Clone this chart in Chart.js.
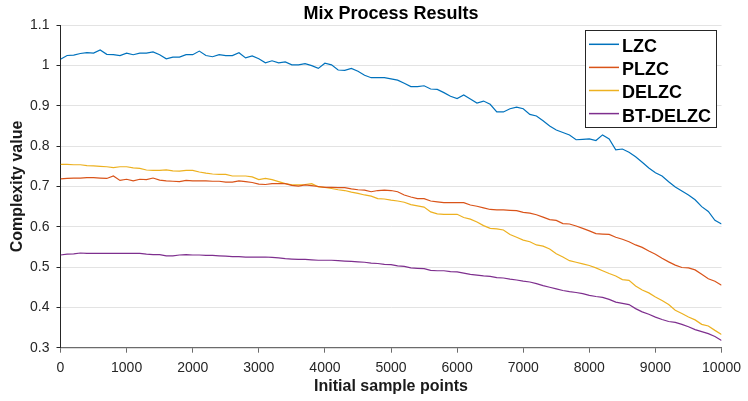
<!DOCTYPE html>
<html>
<head>
<meta charset="utf-8">
<title>Mix Process Results</title>
<script src="https://cdn.jsdelivr.net/npm/chart.js@4.4.1/dist/chart.umd.min.js"></script>
<style>
  html, body { margin: 0; padding: 0; background: #ffffff; }
  #wrap { width: 748px; height: 401px; }
</style>
</head>
<body>
<div id="wrap"><canvas id="chart" width="748" height="401"></canvas></div>
<script>
// Initial sample points (x positions of every measurement)
const samplePoints = [
  0, 100, 200, 300, 400, 500, 600, 700, 800, 900,
  1000, 1100, 1200, 1300, 1400, 1500, 1600, 1700, 1800, 1900,
  2000, 2100, 2200, 2300, 2400, 2500, 2600, 2700, 2800, 2900,
  3000, 3100, 3200, 3300, 3400, 3500, 3600, 3700, 3800, 3900,
  4000, 4100, 4200, 4300, 4400, 4500, 4600, 4700, 4800, 4900,
  5000, 5100, 5200, 5300, 5400, 5500, 5600, 5700, 5800, 5900,
  6000, 6100, 6200, 6300, 6400, 6500, 6600, 6700, 6800, 6900,
  7000, 7100, 7200, 7300, 7400, 7500, 7600, 7700, 7800, 7900,
  8000, 8100, 8200, 8300, 8400, 8500, 8600, 8700, 8800, 8900,
  9000, 9100, 9200, 9300, 9400, 9500, 9600, 9700, 9800, 9900,
  10000
];

const seriesNames = ['LZC', 'PLZC', 'DELZC', 'BT-DELZC'];

const lzc = [
  1.016, 1.025, 1.026, 1.030, 1.032, 1.031, 1.039, 1.028, 1.027, 1.025,
  1.031, 1.027, 1.031, 1.031, 1.034, 1.027, 1.017, 1.021, 1.021, 1.027,
  1.027, 1.036, 1.025, 1.022, 1.027, 1.025, 1.025, 1.032, 1.019, 1.024,
  1.017, 1.007, 1.012, 1.007, 1.009, 1.002, 1.002, 1.005, 1.000, 0.993,
  1.006, 1.002, 0.989, 0.988, 0.993, 0.986, 0.976, 0.970, 0.970, 0.970,
  0.967, 0.964, 0.956, 0.948, 0.948, 0.950, 0.942, 0.941, 0.933, 0.924,
  0.918, 0.927, 0.917, 0.907, 0.912, 0.904, 0.885, 0.885, 0.893, 0.897,
  0.893, 0.879, 0.875, 0.863, 0.850, 0.840, 0.834, 0.828, 0.816, 0.817,
  0.818, 0.814, 0.828, 0.818, 0.791, 0.793, 0.785, 0.774, 0.760, 0.746,
  0.734, 0.726, 0.712, 0.699, 0.689, 0.679, 0.667, 0.650, 0.638, 0.616,
  0.607
];

const plzc = [
  0.719, 0.720, 0.721, 0.721, 0.722, 0.722, 0.721, 0.720, 0.726, 0.715,
  0.718, 0.714, 0.718, 0.717, 0.721, 0.716, 0.714, 0.713, 0.712, 0.715,
  0.714, 0.714, 0.714, 0.713, 0.713, 0.711, 0.711, 0.714, 0.712, 0.710,
  0.706, 0.705, 0.707, 0.707, 0.707, 0.703, 0.701, 0.704, 0.702, 0.700,
  0.698, 0.698, 0.697, 0.697, 0.694, 0.692, 0.691, 0.687, 0.690, 0.691,
  0.690, 0.687, 0.679, 0.674, 0.670, 0.670, 0.664, 0.662, 0.660, 0.660,
  0.660, 0.660, 0.654, 0.651, 0.647, 0.643, 0.642, 0.642, 0.641, 0.640,
  0.636, 0.634, 0.630, 0.624, 0.618, 0.616, 0.608, 0.607, 0.602, 0.596,
  0.590, 0.583, 0.582, 0.581, 0.574, 0.569, 0.563, 0.555, 0.549, 0.540,
  0.532, 0.522, 0.513, 0.505, 0.499, 0.498, 0.493, 0.482, 0.471, 0.465,
  0.455
];

const delzc = [
  0.755, 0.755, 0.754, 0.754, 0.752, 0.751, 0.750, 0.749, 0.747, 0.749,
  0.749, 0.746, 0.745, 0.741, 0.740, 0.740, 0.741, 0.739, 0.738, 0.740,
  0.740, 0.736, 0.733, 0.731, 0.730, 0.730, 0.726, 0.726, 0.726, 0.724,
  0.717, 0.720, 0.717, 0.712, 0.707, 0.704, 0.704, 0.705, 0.707, 0.699,
  0.698, 0.695, 0.692, 0.690, 0.686, 0.683, 0.679, 0.676, 0.670, 0.669,
  0.666, 0.664, 0.661, 0.655, 0.652, 0.649, 0.637, 0.632, 0.631, 0.631,
  0.631, 0.623, 0.619, 0.612, 0.603, 0.596, 0.595, 0.592, 0.581, 0.574,
  0.567, 0.563, 0.555, 0.552, 0.545, 0.533, 0.525, 0.516, 0.512, 0.508,
  0.504, 0.498, 0.491, 0.484, 0.478, 0.469, 0.467, 0.453, 0.443, 0.436,
  0.426, 0.417, 0.407, 0.393, 0.385, 0.376, 0.369, 0.358, 0.354, 0.343,
  0.333
];

const btDelzc = [
  0.530, 0.532, 0.533, 0.535, 0.534, 0.534, 0.534, 0.534, 0.534, 0.534,
  0.534, 0.534, 0.534, 0.532, 0.531, 0.531, 0.528, 0.528, 0.530, 0.531,
  0.530, 0.530, 0.529, 0.529, 0.528, 0.527, 0.526, 0.526, 0.525, 0.525,
  0.525, 0.525, 0.524, 0.523, 0.521, 0.520, 0.519, 0.519, 0.518, 0.517,
  0.517, 0.517, 0.516, 0.515, 0.514, 0.513, 0.512, 0.510, 0.509, 0.507,
  0.506, 0.503, 0.502, 0.498, 0.497, 0.496, 0.492, 0.491, 0.491, 0.489,
  0.488, 0.485, 0.482, 0.480, 0.478, 0.477, 0.474, 0.473, 0.470, 0.468,
  0.465, 0.463, 0.459, 0.454, 0.450, 0.446, 0.442, 0.439, 0.437, 0.434,
  0.430, 0.427, 0.425, 0.420, 0.413, 0.410, 0.407, 0.397, 0.389, 0.383,
  0.376, 0.370, 0.365, 0.363, 0.358, 0.352, 0.345, 0.340, 0.335, 0.328,
  0.318
];

const xTickValues = [0, 1000, 2000, 3000, 4000, 5000, 6000, 7000, 8000, 9000, 10000];
const yTickValues = [0.3, 0.4, 0.5, 0.6, 0.7, 0.8, 0.9, 1.0, 1.1];

const chartTitle = 'Mix Process Results';
const xAxisTitle = 'Initial sample points';
const yAxisTitle = 'Complexity value';

const seriesColors = ['#0072BD', '#D95319', '#EDB120', '#7E2F8E'];
const FONT = '"Liberation Sans", Arial, Helvetica, sans-serif';

const seriesValues = [lzc, plzc, delzc, btDelzc];
const datasets = seriesValues.map((vals, i) => ({
  label: seriesNames[i],
  data: vals.map((v, k) => ({ x: samplePoints[k], y: v })),
  borderColor: seriesColors[i],
  backgroundColor: seriesColors[i],
  borderWidth: 1.2,
  pointRadius: 0,
  pointHoverRadius: 0,
  tension: 0,
  fill: false
}));

// Title, axis titles and the boxed legend, drawn on top of the plot
const annotations = {
  id: 'annotations',
  afterDraw(chart) {
    const { ctx, chartArea } = chart;
    const cx = (chartArea.left + chartArea.right) / 2;
    const cy = (chartArea.top + chartArea.bottom) / 2;
    ctx.save();
    ctx.fillStyle = '#000000';
    ctx.textBaseline = 'alphabetic';
    ctx.textAlign = 'center';

    ctx.font = 'bold 18px ' + FONT;
    ctx.fillText(chartTitle, cx, 19);

    ctx.font = 'bold 16px ' + FONT;
    ctx.fillStyle = '#1a1a1a';
    ctx.fillText(xAxisTitle, cx, 391);

    ctx.save();
    ctx.translate(22, cy);
    ctx.rotate(-Math.PI / 2);
    ctx.fillText(yAxisTitle, 0, 0);
    ctx.restore();

    // legend box
    const box = { x: 585.5, y: 30.5, w: 131, h: 97 };
    ctx.fillStyle = '#ffffff';
    ctx.fillRect(box.x, box.y, box.w, box.h);
    ctx.strokeStyle = '#262626';
    ctx.lineWidth = 1;
    ctx.strokeRect(box.x, box.y, box.w, box.h);

    ctx.font = 'bold 18px ' + FONT;
    ctx.textAlign = 'left';
    chart.data.datasets.forEach((ds, i) => {
      const mid = 45.8 + i * 23.1;
      ctx.strokeStyle = ds.borderColor;
      ctx.lineWidth = 1.5;
      ctx.beginPath();
      ctx.moveTo(589, mid - 1.5);
      ctx.lineTo(619, mid - 1.5);
      ctx.stroke();
      ctx.fillStyle = '#000000';
      ctx.fillText(ds.label, 622, mid + 6.4);
    });
    ctx.restore();
  }
};

new Chart(document.getElementById('chart'), {
  type: 'line',
  data: { datasets },
  options: {
    responsive: false,
    devicePixelRatio: 1,
    animation: false,
    events: [],
    layout: { padding: { top: 25.3, right: 20.3, bottom: 0, left: 0 } },
    plugins: {
      legend: { display: false },
      title: { display: false },
      tooltip: { enabled: false }
    },
    scales: {
      x: {
        type: 'linear',
        min: xTickValues[0],
        max: xTickValues[xTickValues.length - 1],
        afterFit(scale) { scale.height = 53.3; },
        afterBuildTicks(scale) { scale.ticks = xTickValues.map(v => ({ value: v })); },
        ticks: {
          maxRotation: 0,
          autoSkip: false,
          padding: 7,
          color: '#262626',
          font: { family: FONT, size: 14 },
          callback: v => String(v)
        },
        grid: {
          display: true,
          drawOnChartArea: false,
          drawTicks: true,
          tickLength: 5,
          tickColor: '#6b6b6b'
        },
        border: { display: true, color: '#6b6b6b', width: 1.2 }
      },
      y: {
        type: 'linear',
        min: yTickValues[0],
        max: yTickValues[yTickValues.length - 1],
        afterFit(scale) { scale.width = 60.5; },
        afterBuildTicks(scale) { scale.ticks = yTickValues.map(v => ({ value: v })); },
        ticks: {
          padding: 7,
          color: '#262626',
          font: { family: FONT, size: 14 },
          callback: v => String(Math.round(v * 10) / 10)
        },
        grid: {
          color: '#e3e3e3',
          lineWidth: 1,
          drawTicks: true,
          tickLength: 4,
          tickColor: '#262626'
        },
        border: { display: true, color: '#262626', width: 1 }
      }
    }
  },
  plugins: [annotations]
});
</script>
</body>
</html>
